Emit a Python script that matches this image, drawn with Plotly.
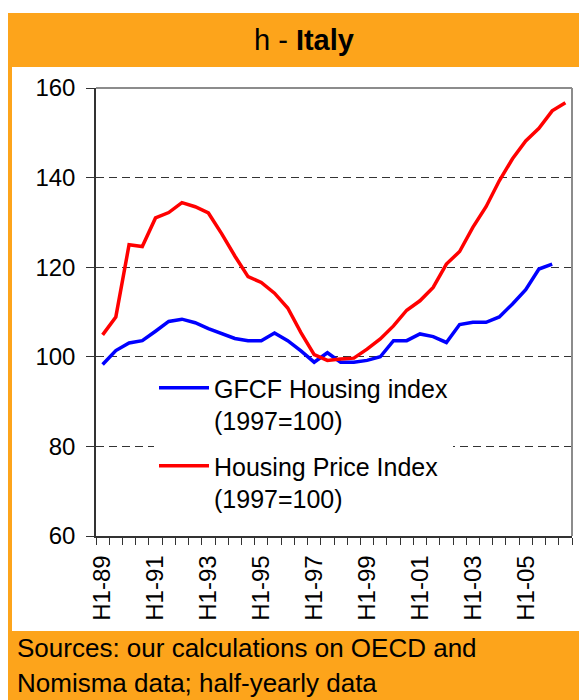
import plotly.graph_objects as go

periods = ["H1-89", "H2-89", "H1-90", "H2-90", "H1-91", "H2-91", "H1-92", "H2-92",
           "H1-93", "H2-93", "H1-94", "H2-94", "H1-95", "H2-95", "H1-96", "H2-96",
           "H1-97", "H2-97", "H1-98", "H2-98", "H1-99", "H2-99", "H1-00", "H2-00",
           "H1-01", "H2-01", "H1-02", "H2-02", "H1-03", "H2-03", "H1-04", "H2-04",
           "H1-05", "H2-05", "H1-06", "H2-06"]

gfcf_housing = [98.3, 101.4, 103.1, 103.6, 105.7, 107.9, 108.4, 107.6, 106.3, 105.3,
                104.1, 103.6, 103.6, 105.3, 103.6, 101.3, 98.8, 100.9, 98.8, 98.8,
                99.2, 100.0, 103.6, 103.6, 105.1, 104.5, 103.2, 107.2, 107.7, 107.7,
                108.9, 111.8, 115.0, 119.6, 120.7]

house_price = [104.9, 108.9, 125.0, 124.6, 131.0, 132.2, 134.4, 133.5, 132.1, 127.5,
               122.5, 117.9, 116.6, 114.2, 110.9, 105.4, 100.5, 99.2, 99.5, 99.7,
               101.7, 104.0, 106.9, 110.4, 112.5, 115.5, 120.7, 123.5, 128.9, 133.5,
               139.3, 144.2, 148.2, 151.0, 154.9, 156.7]

tick_labels = ["H1-89", "H1-91", "H1-93", "H1-95", "H1-97", "H1-99", "H1-01", "H1-03", "H1-05"]
y_ticks = [60, 80, 100, 120, 140, 160]

FONT = "Liberation Sans, Arial, sans-serif"
ORANGE = "#FDA41B"

idx = list(range(len(periods)))
tick_pos = [periods.index(t) for t in tick_labels]
boundaries = [i - 0.5 for i in range(len(periods) + 1)]

fig = go.Figure()
fig.add_trace(go.Scatter(
    x=idx[:len(gfcf_housing)], y=gfcf_housing, mode="lines",
    name="GFCF Housing index<br>(1997=100)",
    line=dict(color="#0000FF", width=3.5), legendgroup="a"))
fig.add_trace(go.Scatter(
    x=idx[:len(house_price)], y=house_price, mode="lines",
    name="Housing Price Index<br>(1997=100)",
    line=dict(color="#FF0000", width=3.5), legendgroup="b"))

# page body has an 8px margin: figure is placed at (8, 8) in the window
OFF = 8
W, H = 587 - OFF, 700 - OFF
L, T = 96 - OFF, 88 - OFF
R = W - (572 - OFF)
B = H - (536 - OFF)
pw, ph = W - L - R, H - T - B


def px_x(X):
    return (X - OFF - L) / pw


def px_y(Y):
    return (H - B - (Y - OFF)) / ph


shapes = [
    dict(type="rect", xref="paper", yref="paper", layer="below",
         x0=px_x(7), x1=px_x(620), y0=px_y(740), y1=px_y(13),
         fillcolor=ORANGE, line=dict(width=0)),
    dict(type="rect", xref="paper", yref="paper", layer="below",
         x0=px_x(12), x1=px_x(620), y0=px_y(631), y1=px_y(67),
         fillcolor="white", line=dict(width=0)),
    dict(type="line", xref="paper", yref="paper", x0=0, x1=1, y0=1, y1=1,
         line=dict(color="#8C8C8C", width=2)),
    dict(type="line", xref="paper", yref="paper", x0=1, x1=1, y0=0, y1=1,
         line=dict(color="#8C8C8C", width=2)),
]

annotations = [
    dict(text="h - <b>Italy</b>", xref="paper", yref="paper",
         x=px_x(304), y=px_y(40), xanchor="center", yanchor="middle",
         showarrow=False, font=dict(family=FONT, size=29, color="black")),
    dict(text="Sources: our calculations on OECD and", xref="paper", yref="paper",
         x=px_x(15), y=px_y(648), xanchor="left", yanchor="middle",
         showarrow=False, font=dict(family=FONT, size=26, color="black")),
    dict(text="Nomisma data; half-yearly data", xref="paper", yref="paper",
         x=px_x(15), y=px_y(683), xanchor="left", yanchor="middle",
         showarrow=False, font=dict(family=FONT, size=26, color="black")),
]

fig.update_layout(
    width=W, height=H, autosize=False,
    margin=dict(l=L, r=R, t=T, b=B, pad=0),
    paper_bgcolor="white", plot_bgcolor="rgba(0,0,0,0)",
    font=dict(family=FONT, size=24, color="black"),
    shapes=shapes, annotations=annotations,
    showlegend=True,
    legend=dict(x=px_x(154), y=px_y(365), xanchor="left", yanchor="top",
                bgcolor="white", borderwidth=0, itemwidth=50,
                valign="top", tracegroupgap=10,
                font=dict(family=FONT, size=25, color="black")),
)

fig.update_xaxes(
    range=[-0.5, len(periods) - 0.5], tickmode="array",
    tickvals=tick_pos, ticktext=tick_labels, tickangle=-90,
    ticks="", showgrid=False, zeroline=False,
    showline=True, linecolor="#333333", linewidth=1.5,
    tickfont=dict(family=FONT, size=24, color="black"),
    ticklabelstandoff=8,
    minor=dict(tickmode="array", tickvals=boundaries, ticks="outside",
               ticklen=7, tickcolor="#333333", tickwidth=1, showgrid=False),
)

fig.update_yaxes(
    range=[60, 160], tickmode="array", tickvals=y_ticks,
    ticks="outside", ticklen=8, tickcolor="#333333", tickwidth=1,
    ticklabelstandoff=6,
    showgrid=True, gridcolor="#333333", gridwidth=1, griddash="8px,5px",
    zeroline=False, showline=True, linecolor="#333333", linewidth=1.5,
    tickfont=dict(family=FONT, size=24, color="black"),
)

fig.write_html("out.html")
